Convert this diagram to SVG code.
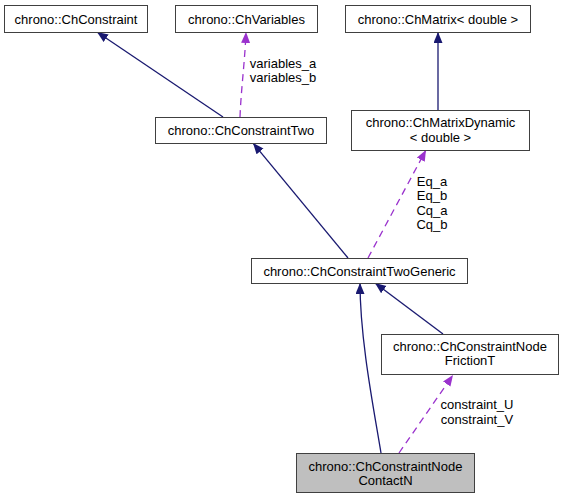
<svg xmlns="http://www.w3.org/2000/svg" width="563" height="499" viewBox="0 0 563 499">
<style>
.box{fill:#ffffff;stroke:#404040;stroke-width:1}
.cur{fill:#bfbfbf;stroke:#404040;stroke-width:1}
text{font-family:"Liberation Sans",Arial,Helvetica,sans-serif;font-size:13px;fill:#000000;text-anchor:middle}
.inh{fill:none;stroke:#191970;stroke-width:1.3}
.use{fill:none;stroke:#9a32cd;stroke-width:1.3;stroke-dasharray:7,5}
</style>
<defs>
<marker id="ah" markerUnits="userSpaceOnUse" markerWidth="12" markerHeight="10" refX="11" refY="4.5" orient="auto">
<path d="M0,0 L11,4.5 L0,9 z" fill="#191970"/>
</marker>
<marker id="ap" markerUnits="userSpaceOnUse" markerWidth="12" markerHeight="10" refX="11" refY="4.5" orient="auto">
<path d="M0,0 L11,4.5 L0,9 z" fill="#9a32cd"/>
</marker>
</defs>
<rect width="563" height="499" fill="#ffffff"/>
<g id="connectors">
<path class="inh" d="M223,117 L97,32" marker-end="url(#ah)"/>
<path class="use" d="M240,117 C241,90 245,60 246,32" marker-end="url(#ap)"/>
<path class="inh" d="M438,110 L438,32" marker-end="url(#ah)"/>
<path class="inh" d="M348,258 L253,143" marker-end="url(#ah)"/>
<path class="use" d="M368,258 L426,150" marker-end="url(#ap)"/>
<path class="inh" d="M443,334 L375,283" marker-end="url(#ah)"/>
<path class="inh" d="M381,453 C374,410 360,340 360,283" marker-end="url(#ah)"/>
<path class="use" d="M399,453 L453,375" marker-end="url(#ap)"/>
<text x="283" y="68">variables_a</text>
<text x="283" y="82">variables_b</text>
<text x="432" y="186">Eq_a</text>
<text x="432" y="200">Eq_b</text>
<text x="432" y="215">Cq_a</text>
<text x="432" y="229">Cq_b</text>
<text x="477" y="409">constraint_U</text>
<text x="477" y="424">constraint_V</text>
</g>
<g id="ChConstraint">
<rect class="box" x="4.5" y="5.5" width="143" height="27"/>
<text x="76" y="23.5">chrono::ChConstraint</text>
</g>
<g id="ChVariables">
<rect class="box" x="175.5" y="5.5" width="142" height="27"/>
<text x="246.5" y="23.5">chrono::ChVariables</text>
</g>
<g id="ChMatrix">
<rect class="box" x="345.5" y="5.5" width="185" height="27"/>
<text x="438" y="23.5">chrono::ChMatrix&lt; double &gt;</text>
</g>
<g id="ChConstraintTwo">
<rect class="box" x="155.5" y="117.5" width="171" height="26"/>
<text x="241" y="135">chrono::ChConstraintTwo</text>
</g>
<g id="ChMatrixDynamic">
<rect class="box" x="351.5" y="110.5" width="178" height="40"/>
<text x="440.5" y="127">chrono::ChMatrixDynamic</text>
<text x="440.5" y="142">&lt; double &gt;</text>
</g>
<g id="ChConstraintTwoGeneric">
<rect class="box" x="251.5" y="258.5" width="216" height="25"/>
<text x="359.5" y="275.5">chrono::ChConstraintTwoGeneric</text>
</g>
<g id="ChConstraintNodeFrictionT">
<rect class="box" x="381.5" y="334.5" width="177" height="40"/>
<text x="470" y="351">chrono::ChConstraintNode</text>
<text x="470" y="365">FrictionT</text>
</g>
<g id="ChConstraintNodeContactN">
<rect class="cur" x="296.5" y="453.5" width="178" height="39"/>
<text x="385.5" y="471">chrono::ChConstraintNode</text>
<text x="385.5" y="485">ContactN</text>
</g>
</svg>
